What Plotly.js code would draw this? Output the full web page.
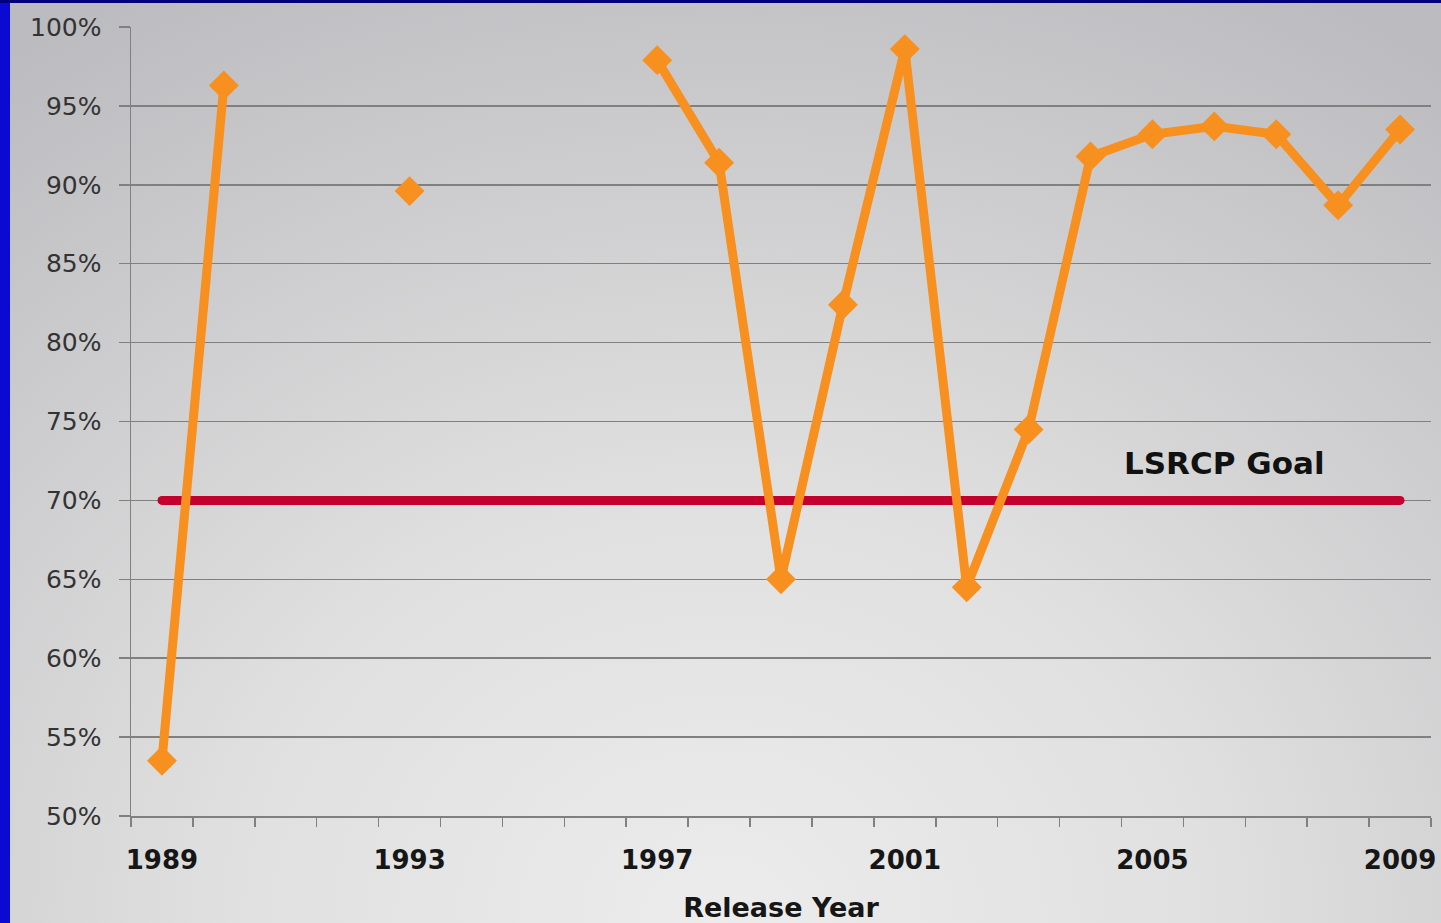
<!DOCTYPE html>
<html>
<head>
<meta charset="utf-8">
<script src="https://cdn.plot.ly/plotly-3.0.1.min.js"></script>
<style>
  html, body { margin: 0; padding: 0; width: 1441px; height: 923px; overflow: hidden; }
  body { background: radial-gradient(ellipse 85% 115% at 50% 100%, #ececec 0%, #e0e0e0 40%, #cdcdcf 72%, #bcbcc0 100%); position: relative; }
  #chart { position: absolute; left: 0; top: 0; width: 1441px; height: 923px; }
  #bl { position: absolute; left: 0; top: 0; width: 10px; height: 923px; background: #0a0ad2; }
  #bt { position: absolute; left: 0; top: 0; width: 1441px; height: 3px; background: #00007c; }
</style>
</head>
<body>
<div id="chart"></div>
<div id="bl"></div>
<div id="bt"></div>
<script>
const years = [1989,1990,1991,1992,1993,1994,1995,1996,1997,1998,1999,2000,2001,2002,2003,2004,2005,2006,2007,2008,2009];
const survival = [53.5,96.3,null,null,89.6,null,null,null,97.9,91.4,65.0,82.4,98.6,64.5,74.5,91.8,93.2,93.7,93.2,88.7,93.5];
const goalYears = [1989, 2009];
const goalValues = [70, 70];
const goalLabel = "LSRCP Goal";
const labelYears = [1989, 1993, 1997, 2001, 2005, 2009];
const labelText = ["1989", "1993", "1997", "2001", "2005", "2009"];
const boundaryTicks = [1988.5,1989.5,1990.5,1991.5,1992.5,1993.5,1994.5,1995.5,1996.5,1997.5,1998.5,1999.5,2000.5,2001.5,2002.5,2003.5,2004.5,2005.5,2006.5,2007.5,2008.5,2009.5];
const xTitle = "Release Year";

const traces = [
  {
    x: goalYears, y: goalValues, type: 'scatter', mode: 'lines+markers',
    line: {color: '#c4002f', width: 9},
    marker: {color: '#c4002f', size: 9, symbol: 'circle'},
    hoverinfo: 'skip', showlegend: false
  },
  {
    x: years, y: survival, type: 'scatter', mode: 'lines+markers',
    connectgaps: false,
    line: {color: '#f7901e', width: 9},
    marker: {color: '#f7901e', size: 23, symbol: 'diamond'},
    showlegend: false
  },
  {
    x: labelYears, y: labelYears.map(() => null), xaxis: 'x2', type: 'scatter',
    mode: 'markers', hoverinfo: 'skip', showlegend: false
  }
];

const layout = {
  width: 1441, height: 923,
  margin: {l: 131, r: 10, t: 27, b: 107},
  paper_bgcolor: 'rgba(0,0,0,0)',
  plot_bgcolor: 'rgba(0,0,0,0)',
  font: {family: 'DejaVu Sans, Verdana, sans-serif', color: '#333'},
  xaxis: {
    range: [1988.5, 2009.5],
    tickmode: 'array', tickvals: boundaryTicks, ticktext: boundaryTicks.map(() => ''),
    ticks: 'outside', ticklen: 9, tickwidth: 1.5, tickcolor: '#808080',
    showgrid: false, zeroline: false,
    showline: true, linecolor: '#808080', linewidth: 1.5,
    title: {text: ''}
  },
  xaxis2: {
    overlaying: 'x', anchor: 'y', side: 'bottom',
    range: [1988.5, 2009.5],
    tickmode: 'array', tickvals: labelYears, ticktext: labelText,
    ticks: '', showgrid: false, zeroline: false, showline: false,
    ticklabelstandoff: 26,
    tickfont: {family: 'DejaVu Sans, Verdana, sans-serif', size: 26, color: '#161616', weight: 'bold'},
    title: {text: xTitle, standoff: 26,
            font: {family: 'DejaVu Sans, Verdana, sans-serif', size: 27, color: '#161616', weight: 'bold'}}
  },
  yaxis: {
    range: [50, 100], dtick: 5, tick0: 50, ticksuffix: '%',
    ticks: 'outside', ticklen: 11, tickwidth: 1.5, tickcolor: '#808080',
    gridcolor: '#808080', gridwidth: 1.5,
    showline: true, linecolor: '#808080', linewidth: 1.5,
    zeroline: false,
    ticklabelstandoff: 12,
    tickfont: {family: 'DejaVu Sans, Verdana, sans-serif', size: 25, color: '#333'}
  },
  annotations: [{
    x: 2006.17, y: 72.4, xref: 'x', yref: 'y', text: goalLabel, showarrow: false,
    font: {family: 'DejaVu Sans, Verdana, sans-serif', size: 31, color: '#111', weight: 'bold'}
  }]
};

Plotly.newPlot('chart', traces, layout, {staticPlot: true});
</script>
</body>
</html>
